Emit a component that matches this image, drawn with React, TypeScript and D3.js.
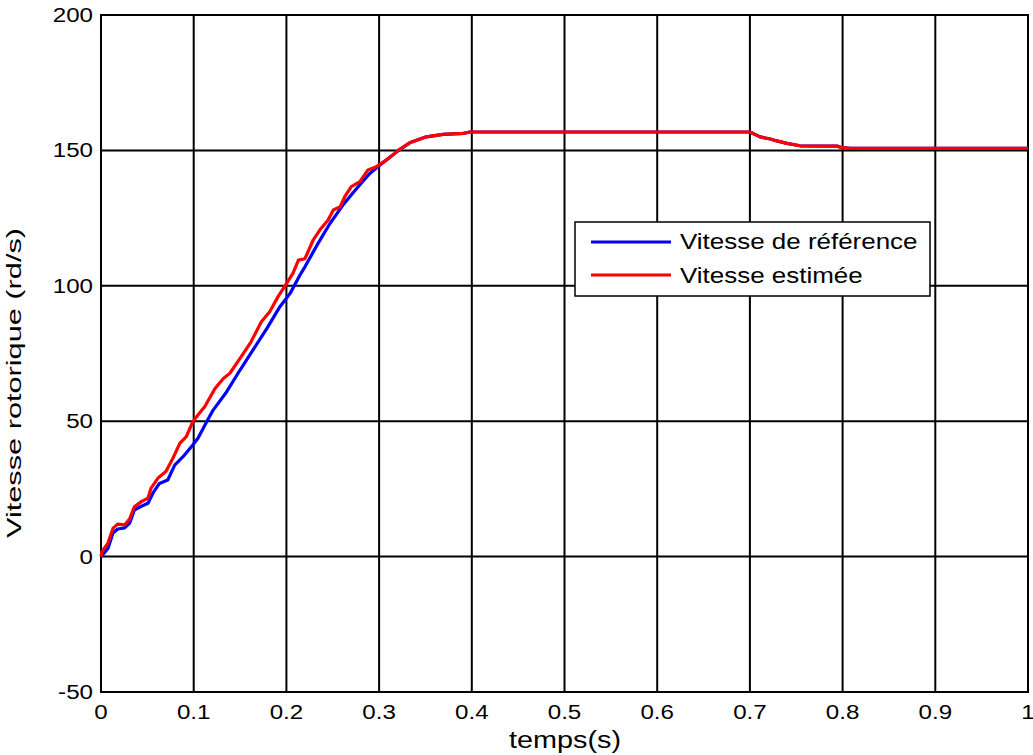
import React from "react";
import * as d3 from "d3";

const xTicks = [0, 0.1, 0.2, 0.3, 0.4, 0.5, 0.6, 0.7, 0.8, 0.9, 1];
const xTickLabels = ["0", "0.1", "0.2", "0.3", "0.4", "0.5", "0.6", "0.7", "0.8", "0.9", "1"];
const yTicks = [-50, 0, 50, 100, 150, 200];
const yTickLabels = ["-50", "0", "50", "100", "150", "200"];

const tailT = [0.333, 0.351, 0.369, 0.391, 0.398, 0.7, 0.711, 0.722, 0.729, 0.74, 0.754, 0.794, 0.799, 0.808, 1.0];
const tailV = [152.8, 155, 155.9, 156.3, 156.8, 156.8, 155, 154.2, 153.5, 152.6, 151.7, 151.6, 151, 150.8, 150.8];

const refT = [0, 0.0075, 0.013, 0.018, 0.0255, 0.031, 0.036, 0.0435, 0.0507, 0.056, 0.063, 0.072, 0.0795, 0.0885, 0.099, 0.1046, 0.115, 0.121, 0.1356, 0.15, 0.164, 0.179, 0.193, 0.204, 0.2147, 0.22, 0.233, 0.247, 0.261, 0.276, 0.29, 0.301, 0.321];
const refV = [0, 3, 8.7, 10.2, 10.6, 12.4, 17.2, 18.6, 19.7, 23.4, 27, 28.3, 33.8, 36.9, 41.2, 43.7, 50.4, 54.1, 60.9, 68.9, 76.3, 84.3, 92.3, 97.2, 104, 107, 115, 123, 129.8, 136, 141.5, 144.6, 150];

const estT = [0, 0.001, 0.0075, 0.013, 0.018, 0.0255, 0.031, 0.036, 0.0435, 0.0507, 0.054, 0.0615, 0.07, 0.0777, 0.085, 0.092, 0.099, 0.1046, 0.112, 0.123, 0.132, 0.139, 0.15, 0.161, 0.173, 0.182, 0.191, 0.198, 0.207, 0.213, 0.22, 0.229, 0.236, 0.245, 0.2506, 0.258, 0.263, 0.27, 0.279, 0.288, 0.297, 0.308, 0.321];
const estV = [0, 1.8, 5, 10.5, 12, 11.7, 14, 18.4, 20.3, 21.6, 25.3, 29, 31.4, 36.4, 41.8, 44.3, 49.8, 52.3, 55.4, 62.1, 65.8, 67.7, 73.2, 78.8, 86.7, 90.4, 96, 99.7, 104.6, 109.5, 110, 117, 120.6, 124.3, 128, 129.2, 132.9, 136.6, 138.4, 142.8, 144, 146.5, 150.1];

const seriesNames = ["Vitesse de référence", "Vitesse estimée"];
const seriesColors = ["#0000ff", "#ff0000"];

const left = 101, right = 1028, top = 15, bottom = 692;
const FONT = "Arial, 'Liberation Sans', sans-serif";

function SText(props: { x: number; y: number; sx: number; size: number; anchor?: string; children: React.ReactNode }) {
  return (
    <text
      transform={`translate(${props.x},${props.y}) scale(${props.sx},1)`}
      textAnchor={props.anchor || "start"}
      fontSize={props.size}
      fill="#000"
    >
      {props.children}
    </text>
  );
}

export default function App() {
  const x = d3.scaleLinear().domain([0, 1]).range([left, right]);
  const y = d3.scaleLinear().domain([-50, 200]).range([bottom, top]);
  const line = d3.line<[number, number]>().x(d => x(d[0])).y(d => y(d[1]));
  const refAllT = refT.concat(tailT), refAllV = refV.concat(tailV);
  const estAllT = estT.concat(tailT), estAllV = estV.concat(tailV);
  const refPts: [number, number][] = refAllT.map((t, i) => [t, refAllV[i]]);
  const estPts: [number, number][] = estAllT.map((t, i) => [t, estAllV[i]]);

  const lx = 575, ly = 222, lw = 355, lh = 74;

  return (
    <svg width={1033} height={755} style={{ position: "absolute", left: 0, top: 0, background: "#fff" }} fontFamily={FONT}>
      <rect x={0} y={0} width={1033} height={755} fill="#fff" />
      {xTicks.map((t, i) => (
        <line key={"gx" + i} x1={x(t)} x2={x(t)} y1={top} y2={bottom} stroke="#000" strokeWidth={2} />
      ))}
      {yTicks.map((t, i) => (
        <line key={"gy" + i} x1={left} x2={right} y1={y(t)} y2={y(t)} stroke="#000" strokeWidth={2} />
      ))}
      <rect x={left} y={top} width={right - left} height={bottom - top} fill="none" stroke="#000" strokeWidth={2} />
      <path d={line(refPts) || ""} fill="none" stroke={seriesColors[0]} strokeWidth={3.2} strokeLinejoin="round" />
      <path d={line(estPts) || ""} fill="none" stroke={seriesColors[1]} strokeWidth={3.2} strokeLinejoin="round" />
      {xTicks.map((t, i) => (
        <SText key={"tx" + i} x={x(t)} y={719} sx={1.15} size={21} anchor="middle">{xTickLabels[i]}</SText>
      ))}
      {yTicks.map((t, i) => (
        <SText key={"ty" + i} x={93} y={y(t) + 7} sx={1.15} size={21} anchor="end">{yTickLabels[i]}</SText>
      ))}
      <SText x={565} y={748} sx={1.2} size={24} anchor="middle">temps(s)</SText>
      <text
        transform={`translate(21,383) rotate(-90)`}
        textAnchor="middle"
        fontSize={20}
        textLength={310}
        lengthAdjust="spacingAndGlyphs"
      >
        Vitesse rotorique (rd/s)
      </text>
      <rect x={lx} y={ly} width={lw} height={lh} fill="#fff" stroke="#000" strokeWidth={1.5} />
      {seriesNames.map((n, i) => (
        <g key={"lg" + i}>
          <line x1={591} x2={671} y1={242 + i * 33} y2={242 + i * 33} stroke={seriesColors[i]} strokeWidth={3.2} />
          <SText x={680} y={249 + i * 33.5} sx={1.18} size={22}>{n}</SText>
        </g>
      ))}
    </svg>
  );
}
